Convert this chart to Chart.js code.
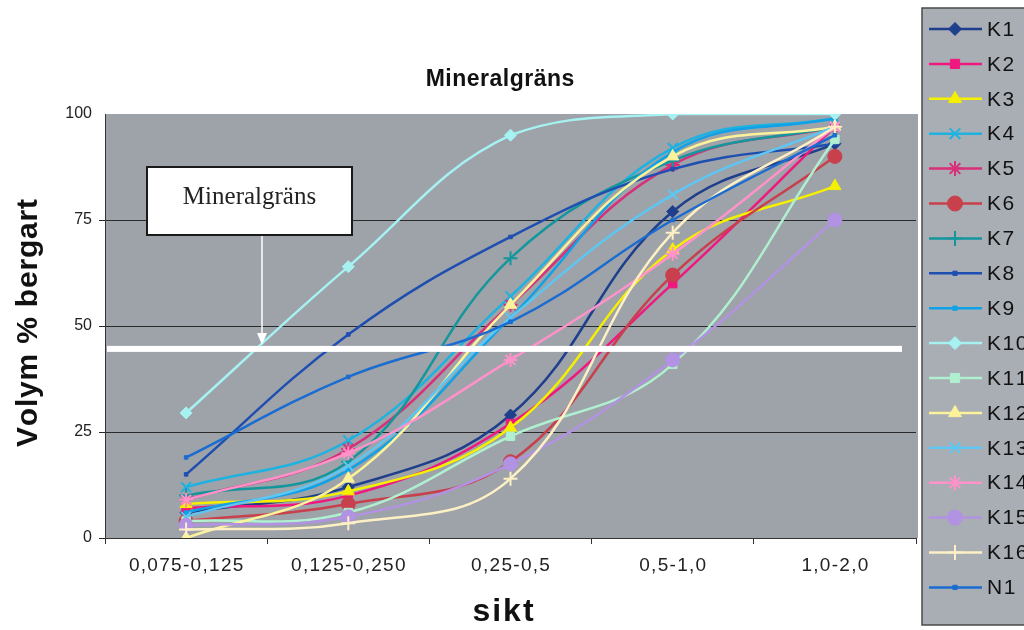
<!DOCTYPE html>
<html>
<head>
<meta charset="utf-8">
<title>Mineralgräns</title>
<script src="https://cdn.jsdelivr.net/npm/chart.js@4/dist/chart.umd.min.js"></script>
<style>
  html, body { margin: 0; padding: 0; background: #fff; }
  #wrap { width: 1024px; height: 630px; }
</style>
</head>
<body>
<div id="wrap"><canvas id="chart" width="1024" height="630"></canvas></div>
<script>
'use strict';

// sieve fractions and axis ticks
const categories = ['0,075-0,125', '0,125-0,250', '0,25-0,5', '0,5-1,0', '1,0-2,0'];
const yTicks = [0, 25, 50, 75, 100];
const mineralLimit = 44.6;

// volume % per fraction
const k1  = [6, 12, 29, 77, 93];
const k2  = [7, 10, 27, 60, 97];
const k3  = [8, 11, 26, 68, 83];
const k4  = [12, 23, 57, 92, 99];
const k5  = [9, 21, 55, 88, 97];
const k6  = [4, 8, 18, 62, 90];
const k7  = [10, 18, 66, 89, 97];
const k8  = [15, 48, 71, 87, 93];
const k9  = [6, 16, 52, 91, 99];
const k10 = [29.5, 64, 95, 100, 100];
const k11 = [4, 6, 24, 41, 94];
const k12 = [0, 14, 55, 90, 97];
const k13 = [5, 17, 52, 81, 97];
const k14 = [9, 20, 42, 67, 97];
const k15 = [3, 5, 17.5, 42, 75];
const k16 = [2, 3.5, 14, 72, 97];
const n1  = [19, 38, 51, 75, 95];

const seriesNames = ['K1', 'K2', 'K3', 'K4', 'K5', 'K6', 'K7', 'K8', 'K9',
    'K10', 'K11', 'K12', 'K13', 'K14', 'K15', 'K16', 'N1'];
const seriesValues = [k1, k2, k3, k4, k5, k6, k7, k8, k9,
    k10, k11, k12, k13, k14, k15, k16, n1];

// look of each series: [colour, marker, marker radius]
const seriesLook = [
    ['#1f3f8c', 'rectRot', 6],
    ['#f0187f', 'rect', 6],
    ['#f5f000', 'triangle', 7],
    ['#1eb2e0', 'crossRot', 7],
    ['#d8307a', 'star', 7],
    ['#c8404c', 'circle', 7],
    ['#14979c', 'cross', 7],
    ['#1e4fb0', 'rect', 2.5],
    ['#0fa2e6', 'rect', 2.5],
    ['#a6f2f2', 'rectRot', 6],
    ['#b0efcf', 'rect', 6],
    ['#fbf29a', 'triangle', 7],
    ['#5ec6f2', 'crossRot', 7],
    ['#ff92c8', 'star', 7],
    ['#b292e2', 'circle', 7],
    ['#fdf0c4', 'cross', 7],
    ['#1a6cd0', 'rect', 2.5]
];

const plotGray = '#9ea2a9';
const legendGray = '#a9adb4';
const sansFamily = '"Liberation Sans", Arial, sans-serif';

function isCrossLike(style) {
    return style === 'cross' || style === 'crossRot' || style === 'star';
}

function buildDatasets() {
    let sets = [];
    for (let i = 0; i < seriesNames.length; i++) {
        let look = seriesLook[i];
        sets.push({
            label: seriesNames[i],
            data: seriesValues[i],
            borderColor: look[0],
            backgroundColor: look[0],
            pointBackgroundColor: look[0],
            pointBorderColor: look[0],
            pointStyle: look[1],
            pointRadius: look[2],
            pointBorderWidth: isCrossLike(look[1]) ? 2 : 1,
            borderWidth: 2.5,
            tension: 0.4,
            fill: false,
            order: seriesNames.length - i
        });
    }
    return sets;
}

// draw text char by char with a little extra spacing, centred on x
function drawSpaced(ctx, text, x, y, spacing) {
    let widths = [];
    let total = 0;
    for (let ch of text) {
        let w = ctx.measureText(ch).width;
        widths.push(w);
        total += w;
    }
    total += spacing * (widths.length - 1);
    let cx = x - total / 2;
    let i = 0;
    ctx.textAlign = 'left';
    for (let ch of text) {
        ctx.fillText(ch, cx, y);
        cx += widths[i] + spacing;
        i++;
    }
}

// gray plot area and white page
const plotBackground = {
    id: 'plotBackground',
    beforeDraw(chart) {
        let ctx = chart.ctx;
        let a = chart.chartArea;
        ctx.save();
        ctx.fillStyle = '#ffffff';
        ctx.fillRect(0, 0, chart.width, chart.height);
        ctx.fillStyle = plotGray;
        ctx.fillRect(a.left, a.top, a.right - a.left + 2, a.bottom - a.top);
        ctx.restore();
    }
};

// white limit line, text box and arrow
const limitMarker = {
    id: 'limitMarker',
    afterDatasetsDraw(chart) {
        let ctx = chart.ctx;
        let a = chart.chartArea;
        let yLine = chart.scales.y.getPixelForValue(mineralLimit);
        ctx.save();
        ctx.fillStyle = '#ffffff';
        ctx.fillRect(a.left + 2, yLine - 3, a.right - a.left - 16, 6);

        let bx = a.left + 42, by = a.top + 53, bw = 205, bh = 68;
        let ax = bx + 115;
        ctx.strokeStyle = '#ffffff';
        ctx.lineWidth = 1.5;
        ctx.beginPath();
        ctx.moveTo(ax, by + bh);
        ctx.lineTo(ax, yLine - 6);
        ctx.stroke();
        ctx.beginPath();
        ctx.moveTo(ax - 5, yLine - 16);
        ctx.lineTo(ax, yLine - 4);
        ctx.lineTo(ax + 5, yLine - 16);
        ctx.closePath();
        ctx.fill();

        ctx.fillStyle = '#ffffff';
        ctx.fillRect(bx, by, bw, bh);
        ctx.strokeStyle = '#1a1a1a';
        ctx.lineWidth = 2;
        ctx.strokeRect(bx, by, bw, bh);
        ctx.fillStyle = '#222222';
        ctx.font = '25px "Liberation Serif", "DejaVu Serif", serif';
        ctx.textAlign = 'center';
        ctx.textBaseline = 'middle';
        ctx.fillText('Mineralgräns', bx + bw / 2, by + bh / 2 - 4);
        ctx.restore();
    }
};

// title, axis titles, x tick labels and legend
const textAndLegend = {
    id: 'textAndLegend',
    afterDraw(chart) {
        let ctx = chart.ctx;
        let xScale = chart.scales.x;
        ctx.save();
        ctx.textBaseline = 'middle';
        ctx.fillStyle = '#111111';

        ctx.font = 'bold 23px ' + sansFamily;
        drawSpaced(ctx, 'Mineralgräns', 500, 80, 0.5);

        ctx.font = 'bold 32px ' + sansFamily;
        drawSpaced(ctx, 'sikt', 503, 612, 2);

        ctx.save();
        ctx.translate(29, 323);
        ctx.rotate(-Math.PI / 2);
        ctx.font = 'bold 30px ' + sansFamily;
        drawSpaced(ctx, 'Volym % bergart', 0, 0, 0.8);
        ctx.restore();

        ctx.fillStyle = '#222222';
        ctx.font = '19px ' + sansFamily;
        for (let i = 0; i < categories.length; i++) {
            drawSpaced(ctx, categories[i], xScale.getPixelForTick(i), 566, 1.3);
        }

        // legend box runs off the right edge like the scan
        ctx.fillStyle = legendGray;
        ctx.fillRect(922, 8, 110, 617);
        ctx.strokeStyle = '#4a4a4a';
        ctx.lineWidth = 1.5;
        ctx.strokeRect(922, 8, 110, 617);

        let step = 34.9;
        for (let i = 0; i < seriesNames.length; i++) {
            let y = 29 + i * step;
            let look = seriesLook[i];
            ctx.strokeStyle = look[0];
            ctx.fillStyle = look[0];
            ctx.lineWidth = 2.5;
            ctx.beginPath();
            ctx.moveTo(929, y);
            ctx.lineTo(982, y);
            ctx.stroke();
            if (Chart.helpers && Chart.helpers.drawPoint) {
                ctx.lineWidth = isCrossLike(look[1]) ? 2 : 1;
                Chart.helpers.drawPoint(ctx, {
                    pointStyle: look[1],
                    radius: look[2] === 2.5 ? 3 : look[2] + 0.5,
                    rotation: 0,
                    borderWidth: ctx.lineWidth
                }, 955, y);
            }
            ctx.fillStyle = '#111111';
            ctx.font = '21px ' + sansFamily;
            ctx.textAlign = 'left';
            let tx = 987;
            for (let ch of seriesNames[i]) {
                ctx.fillText(ch, tx, y + 1);
                tx += ctx.measureText(ch).width + 1.5;
            }
        }
        ctx.restore();
    }
};

function drawChart() {
    let ctx = document.getElementById('chart').getContext('2d');
    return new Chart(ctx, {
        type: 'line',
        data: {
            labels: categories,
            datasets: buildDatasets()
        },
        options: {
            responsive: false,
            animation: false,
            devicePixelRatio: 1,
            layout: { padding: { left: 0, right: 108, top: 114, bottom: 0 } },
            plugins: {
                legend: { display: false },
                title: { display: false },
                tooltip: { enabled: false }
            },
            scales: {
                x: {
                    offset: true,
                    afterFit(scale) { scale.height = 92; },
                    grid: {
                        offset: true,
                        drawOnChartArea: false,
                        drawTicks: true,
                        tickLength: 6,
                        color: '#333333'
                    },
                    border: { display: true, color: '#333333', width: 1 },
                    ticks: {
                        color: 'rgba(0,0,0,0)',
                        padding: 12,
                        maxRotation: 0,
                        font: { family: sansFamily, size: 15 }
                    },
                    title: { display: false }
                },
                y: {
                    min: 0,
                    max: 100,
                    afterFit(scale) { scale.width = 105; },
                    afterBuildTicks(scale) {
                        scale.ticks = yTicks.map(v => ({ value: v }));
                    },
                    grid: {
                        color: c => (c.tick && c.tick.value === 100) ? 'rgba(0,0,0,0)' : '#2a2a2a',
                        lineWidth: 1,
                        tickLength: 6
                    },
                    border: { display: true, color: '#333333', width: 1 },
                    ticks: {
                        color: '#222222',
                        padding: 7,
                        font: { family: sansFamily, size: 16 }
                    },
                    title: { display: false }
                }
            }
        },
        plugins: [plotBackground, limitMarker, textAndLegend]
    });
}

drawChart();
</script>
</body>
</html>
